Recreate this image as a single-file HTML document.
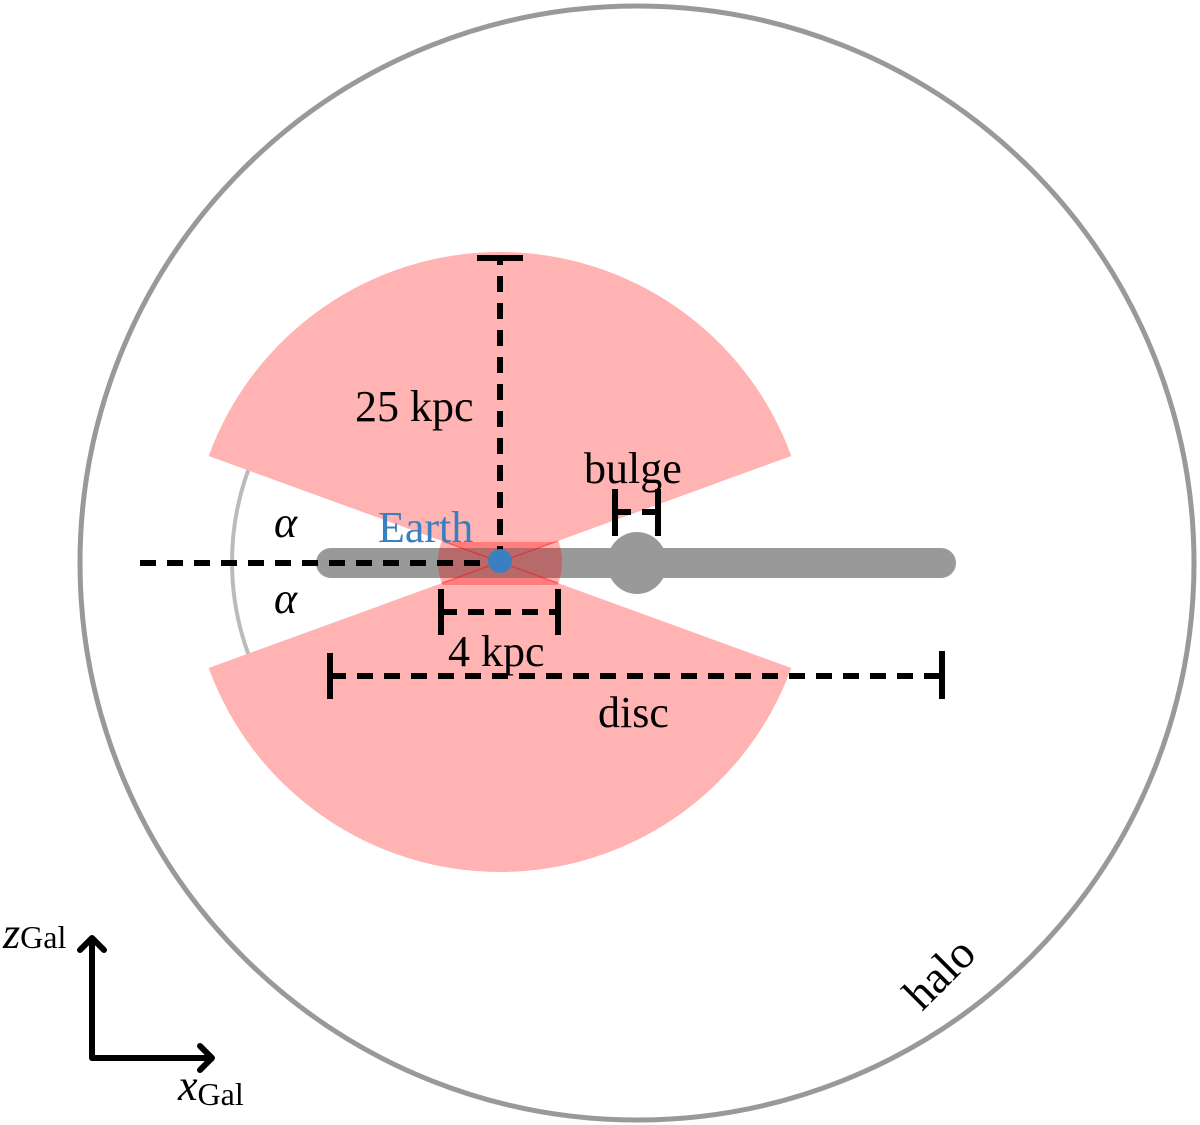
<!DOCTYPE html>
<html><head><style>body{margin:0;background:#fff}svg{display:block}text{font-family:"Liberation Serif",serif}</style></head>
<body>
<svg width="1200" height="1125" viewBox="0 0 1200 1125">
<defs><clipPath id="c"><circle cx="500" cy="562" r="62"/></clipPath></defs>
<circle cx="637" cy="563" r="557" fill="none" stroke="#999" stroke-width="5"/>
<path d="M248.2,470.3 A268 268 0 0 0 248.2,653.7" fill="none" stroke="#bbb" stroke-width="4"/>
<path d="M500,562 L208.7,456 A310 310 0 0 1 791.3,456 Z" fill="#ffb3b3"/>
<path d="M500,562 L791.3,668 A310 310 0 0 1 208.7,668 Z" fill="#ffb3b3"/>
<rect x="316" y="548" width="640" height="30" rx="15" fill="#999"/>
<ellipse cx="637" cy="563" rx="30" ry="31" fill="#999"/>
<g clip-path="url(#c)">
<rect x="430" y="542" width="140" height="43" fill="rgba(255,0,0,0.3)"/>
<line x1="400" y1="525.6" x2="600" y2="598.4" stroke="rgba(255,0,0,0.4)" stroke-width="1.5"/>
<line x1="400" y1="598.4" x2="600" y2="525.6" stroke="rgba(255,0,0,0.4)" stroke-width="1.5"/>
</g>
<g stroke="#000" stroke-width="6" fill="none">
<line x1="500" y1="562" x2="500" y2="258" stroke-dasharray="16 11"/>
<line x1="477" y1="258" x2="523" y2="258"/>
<line x1="140" y1="563" x2="512" y2="563" stroke-dasharray="16 11"/>
<line x1="441" y1="589" x2="441" y2="635"/><line x1="558" y1="589" x2="558" y2="635"/>
<line x1="441" y1="612" x2="558" y2="612" stroke-dasharray="16 11"/>
<line x1="330" y1="653" x2="330" y2="699"/><line x1="942" y1="651" x2="942" y2="699"/>
<line x1="330" y1="676" x2="942" y2="676" stroke-dasharray="16 11"/>
<line x1="615" y1="489" x2="615" y2="536"/><line x1="658" y1="489" x2="658" y2="536"/>
<line x1="615" y1="512" x2="658" y2="512" stroke-dasharray="16 11"/>
<path d="M92,1058 L92,938 M80,950 L92,938 L104,950 M92,1058 L212,1058 M200,1046 L212,1058 L200,1070" stroke-width="6" stroke-linecap="round" stroke-linejoin="round"/>
</g>
<circle cx="500" cy="561" r="12" fill="#3a7fbf"/>
<g font-size="44" fill="#000">
<text x="355" y="421">25 kpc</text>
<text x="584" y="483">bulge</text>
<text x="378" y="542" fill="#3a7fbf">Earth</text>
<text x="448" y="666">4 kpc</text>
<text x="598" y="727">disc</text>
<text x="274" y="537" font-style="italic">α</text>
<text x="274" y="613" font-style="italic">α</text>
<text font-size="46" transform="translate(922,1012) rotate(-45)">halo</text>
<text x="3" y="948" font-style="italic">z<tspan font-style="normal" font-size="32">Gal</tspan></text>
<text x="178" y="1100" font-style="italic">x<tspan font-style="normal" font-size="32" dy="5">Gal</tspan></text>
</g>
</svg>
</body></html>
